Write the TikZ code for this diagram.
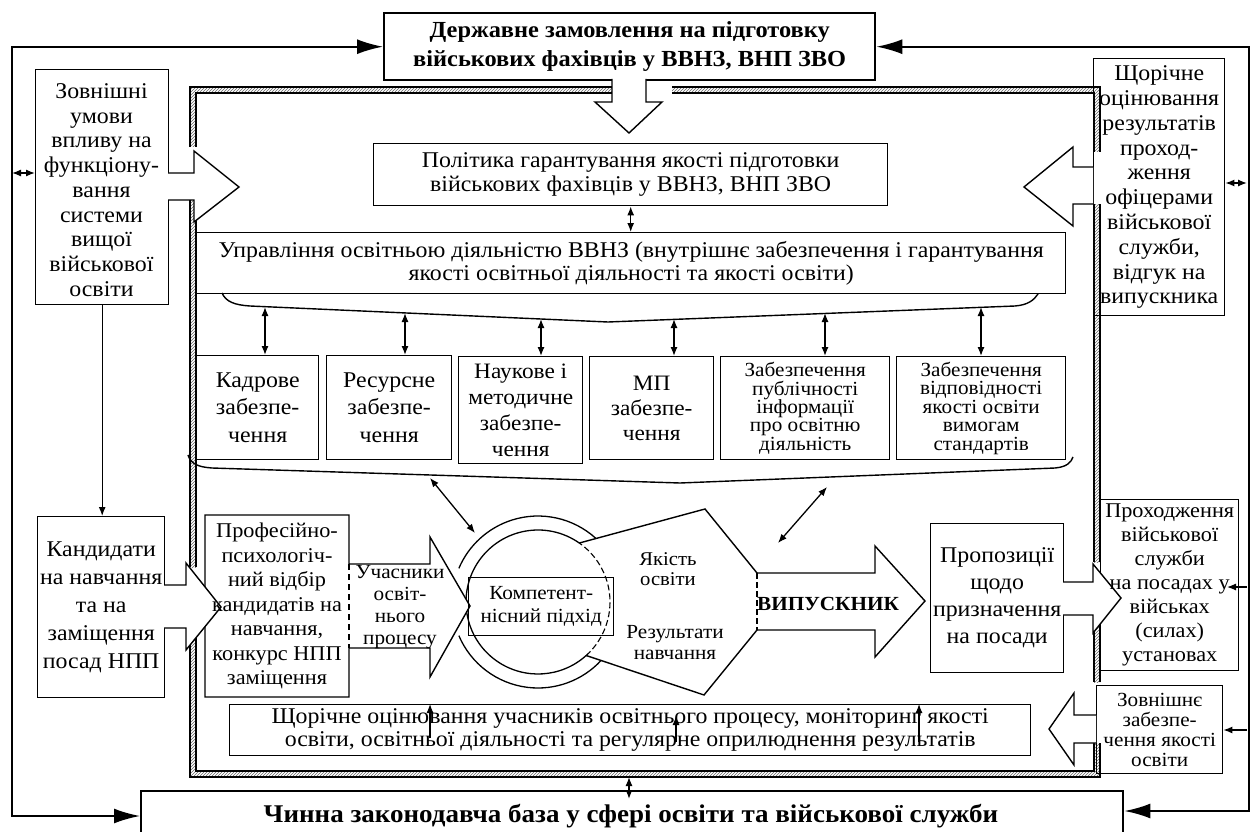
\documentclass[tikz,border=0pt]{standalone}
\usepackage{fontspec}
\setmainfont{Liberation Serif}[FakeStretch=1.06]
\usetikzlibrary{arrows.meta,patterns}
\newcommand\myfs[2]{\fontsize{#1}{#2}\selectfont}
\begin{document}
\begin{tikzpicture}[x=1pt,y=-1pt,
  bx/.style={draw, line width=1.4pt, inner sep=0pt, anchor=north west},
  tbx/.style={bx, line width=2.4pt},
  txt/.style={inner sep=0pt, align=center},
  blk/.style={draw, line width=1.4pt, line join=miter, fill=white},
  hatch/.style={pattern=north east lines, pattern color=black!60},
  rl/.style={line width=1.1pt},
  bigdbl/.style={line width=2pt, {Latex[length=26pt,width=15pt]}-{Latex[length=26pt,width=15pt]}},
  dbl/.style={line width=1.3pt, {Latex[length=9pt,width=7pt]}-{Latex[length=9pt,width=7pt]}},
  sarr/.style={line width=1.2pt, -{Latex[length=9pt,width=7pt]}},
  brk/.style={line width=1.4pt},
]
\useasboundingbox (0,0) rectangle (1251,832);
\fill[white] (0,0) rectangle (1251,832);

% hatched frame
\fill[hatch] (612,87) -- (190,87) -- (190,147) -- (196,147) -- (196,93) -- (612,93) -- cycle;
\draw[rl] (612,87) -- (190,87) -- (190,147);
\draw[rl] (612,93) -- (196,93) -- (196,147);
\fill[hatch] (190,200) rectangle (196,567);
\draw[rl] (190,200) -- (190,567) (196,200) -- (196,567);
\fill[hatch] (190,622) -- (190,777) -- (1100,777) -- (1100,743) -- (1094,743) -- (1094,771) -- (196,771) -- (196,622) -- cycle;
\draw[rl] (190,622) -- (190,777) -- (1100,777) -- (1100,743);
\draw[rl] (196,622) -- (196,771) -- (1094,771) -- (1094,743);
\fill[hatch] (1094,615) rectangle (1100,682);
\draw[rl] (1094,615) -- (1094,682) (1100,615) -- (1100,682);
\fill[hatch] (1094,204) rectangle (1100,562);
\draw[rl] (1094,204) -- (1094,562) (1100,204) -- (1100,562);
\fill[hatch] (672,87) -- (1100,87) -- (1100,152) -- (1094,152) -- (1094,93) -- (672,93) -- cycle;
\draw[rl] (672,87) -- (1100,87) -- (1100,152);
\draw[rl] (672,93) -- (1094,93) -- (1094,152);

% circles
\coordinate (cc) at (538,602);
\draw[line width=1.3pt] (cc) ++(-47.6:86) arc[start angle=-47.6, end angle=-157, radius=86];
\draw[line width=1.3pt] (cc) ++(-203:86) arc[start angle=-203, end angle=-317.1, radius=86];
\draw[line width=1.3pt] (cc) ++(-55:72) arc[start angle=-55, end angle=-312, radius=72];
\draw[line width=1.1pt, dash pattern=on 6pt off 3pt] (cc) ++(48:72) arc[start angle=48, end angle=-55, radius=72];

% professional selection + participants arrow
\draw[blk] (205,515) -- (349,515) -- (349,564) -- (430,564) -- (430,537) -- (470,606) -- (430,677) -- (430,648) -- (349,648) -- (349,697) -- (205,697) -- cycle;
\draw[line width=1.1pt, dash pattern=on 6pt off 4pt] (349,564) -- (349,648);

% boxes
\node[tbx, minimum width=491pt, minimum height=67pt] (gov) at (383,12) {};
\node[tbx, minimum width=982pt, minimum height=50pt] (law) at (140,790) {};
\node[bx, minimum width=514pt, minimum height=62pt] (pol) at (373,143) {};
\node[bx, minimum width=869pt, minimum height=61pt] (upr) at (196,232) {};
\node[bx, minimum width=133pt, minimum height=235pt] (zovn) at (35,69) {};
\node[bx, minimum width=131pt, minimum height=257pt] (shch) at (1093,58) {};
\node[bx, minimum width=122pt, minimum height=104pt] (kadr) at (196,355) {};
\node[bx, minimum width=125pt, minimum height=104pt] (res) at (326,355) {};
\node[bx, minimum width=124pt, minimum height=107pt] (nauk) at (458,356) {};
\node[bx, minimum width=124pt, minimum height=103pt] (mp) at (589,356) {};
\node[bx, minimum width=169pt, minimum height=103pt] (pub) at (720,356) {};
\node[bx, minimum width=169pt, minimum height=103pt] (vid) at (896,356) {};
\node[bx, minimum width=127pt, minimum height=181pt] (kand) at (37,516) {};
\node[bx, minimum width=133pt, minimum height=149pt] (prop) at (930,523) {};
\node[bx, minimum width=138pt, minimum height=171pt] (prokh) at (1100,499) {};
\node[bx, minimum width=126pt, minimum height=88pt] (zz) at (1096,685) {};
\node[bx, minimum width=801pt, minimum height=51pt] (mon) at (229,704) {};
\node[bx, minimum width=145pt, minimum height=58pt] (komp) at (468,577) {};

% block arrows
\draw[blk] (612,79) -- (612,102) -- (595,102) -- (629,133) -- (662,102) -- (646,102) -- (646,79);
\draw[blk] (168,173) -- (194,173) -- (194,151) -- (239,187) -- (194,222) -- (194,200) -- (168,200);
\draw[blk] (1093,167) -- (1073,167) -- (1073,147) -- (1024,187) -- (1073,226) -- (1073,204) -- (1093,204);
\draw[blk] (164,585) -- (186,585) -- (186,563) -- (221,607) -- (186,650) -- (186,628) -- (164,628);
\draw[blk] (1063,582) -- (1093,582) -- (1093,564) -- (1121,598) -- (1093,633) -- (1093,615) -- (1063,615);
\draw[blk] (1096,715) -- (1074,715) -- (1074,693) -- (1049,729) -- (1074,765) -- (1074,743) -- (1096,743);

% quality pentagon + graduate arrow
\draw[line width=1.4pt, line join=miter] (cc) ++(-55:72) -- (705,509) -- (757,573) -- (875,573) -- (875,546) -- (925,601) -- (875,657) -- (875,630) -- (757,630) -- (704,695) -- (586.2,655.5);
\draw[line width=1.1pt, dash pattern=on 6pt off 3pt] (757,573) -- (757,630);

% outer connectors
\draw[bigdbl] (law.west |- 0,816) -- ++(-128,0) |- (gov.west);
\draw[bigdbl] (law.east |- 0,811) -- ++(125,0) |- (gov.east);
\coordinate (dl) at (12,173);
\draw[dbl] (dl) -- (dl -| zovn.west);
\coordinate (dr) at (1247,183);
\draw[dbl] (dr -| shch.east) -- (dr);
\coordinate (pr) at (1247,587);
\coordinate (prt) at (1227,587);
\draw[sarr] (pr) -- (prt);
\coordinate (zr) at (1247,730);
\draw[sarr] (zr) -- (zr -| zz.east);
\draw[sarr] (zovn.south) -- (zovn.south |- kand.north);
\draw[dbl] (pol.south) -- (pol.south |- upr.north);
\coordinate (fb) at (629,777);
\coordinate (fb2) at (629,799);
\draw[dbl] (fb) -- (fb2);

% brackets
\draw[brk] (222,293) .. controls (226,302) and (235,305) .. (250,306) -- (608,322) -- (1015,306) .. controls (1028,305) and (1034,300) .. (1038,294);
\draw[brk] (188,455) .. controls (191,464) and (198,467) .. (212,468) -- (680,483) -- (1055,468) .. controls (1066,467) and (1071,463) .. (1073,457);
\foreach \x/\y/\b in {265/307/kadr, 405/313/res, 541/319/nauk, 674/319/mp, 825/313/pub, 981/307/vid} {
  \coordinate (t\b) at (\x,\y);
  \draw[dbl] (t\b) -- (t\b |- \b.north);
}
\coordinate (d1a) at (430,478); \coordinate (d1b) at (475,533);
\draw[dbl] (d1a) -- (d1b);
\coordinate (d2a) at (827,487); \coordinate (d2b) at (778,543);
\draw[dbl] (d2a) -- (d2b);

% arrows up into monitoring box
\coordinate (u1) at (430,738); \draw[sarr] (u1) -- (u1 |- mon.north);
\coordinate (u2) at (676,742); \coordinate (u2t) at (676,716); \draw[sarr] (u2) -- (u2t);
\coordinate (u3) at (919,742); \draw[sarr] (u3) -- (u3 |- mon.north);

% texts
\node[txt, font=\bfseries\myfs{23}{28.5}] (gov-t) at (gov) {Державне замовлення на підготовку\\військових фахівців у ВВНЗ, ВНП ЗВО};
\node[txt, font=\bfseries\myfs{25.5}{28}] (law-t) at (631,816) {Чинна законодавча база у сфері освіти та військової служби};
\node[txt, font=\myfs{22.5}{24}] (pol-t) at (pol) {Політика гарантування якості підготовки\\військових фахівців у ВВНЗ, ВНП ЗВО};
\node[txt, font=\myfs{22.5}{23.5}] (upr-t) at (upr) {Управління освітньою діяльністю ВВНЗ (внутрішнє забезпечення і гарантування\\якості освітньої діяльності та якості освіти)};
\node[txt, font=\myfs{22.5}{24.7}] (zovn-t) at (101.5,190) {Зовнішні\\умови\\впливу на\\функціону-\\вання\\системи\\вищої\\військової\\освіти};
\node[txt, font=\myfs{22.5}{24.8}] (shch-t) at (shch) {Щорічне\\оцінювання\\результатів\\проход-\\ження\\офіцерами\\військової\\служби,\\відгук на\\випускника};
\node[txt, font=\myfs{22.5}{27.5}] (kadr-t) at (kadr) {Кадрове\\забезпе-\\чення};
\node[txt, font=\myfs{22.5}{27.5}] (res-t) at (res) {Ресурсне\\забезпе-\\чення};
\node[txt, font=\myfs{22}{26}] (nauk-t) at (nauk) {Наукове і\\методичне\\забезпе-\\чення};
\node[txt, font=\myfs{22}{25}] (mp-t) at (mp) {МП\\забезпе-\\чення};
\node[txt, font=\myfs{20}{18.4}] (pub-t) at (pub) {Забезпечення\\публічності\\інформації\\про освітню\\діяльність};
\node[txt, font=\myfs{20}{18.4}] (vid-t) at (vid) {Забезпечення\\відповідності\\якості освіти\\вимогам\\стандартів};
\node[txt, font=\myfs{22.5}{28}] (kand-t) at (kand) {Кандидати\\на навчання\\та на\\заміщення\\посад НПП};
\node[txt, font=\myfs{21}{24.5}] (prof-t) at (277,606) {Професійно-\\психологіч-\\ний відбір\\кандидатів на\\навчання,\\конкурс НПП\\заміщення};
\node[txt, font=\myfs{20}{22}] (uch-t) at (400,607) {Учасники\\освіт-\\нього\\процесу};
\node[txt, font=\myfs{20}{23}] (komp-t) at (komp) {Компетент-\\нісний підхід};
\node[txt, font=\myfs{19.5}{19.5}] (yak-t) at (668,569) {Якість\\освіти};
\node[txt, font=\myfs{20}{21}] (rez-t) at (675,643) {Результати\\навчання};
\node[txt, font=\bfseries\myfs{20}{24}] (vyp-t) at (828,604) {ВИПУСКНИК};
\node[txt, font=\myfs{22.5}{27}] (prop-t) at (prop) {Пропозиції\\щодо\\призначення\\на посади};
\node[txt, font=\myfs{21}{24}] (prokh-t) at (prokh) {Проходження\\військової\\служби\\на посадах у\\військах\\(силах)\\установах};
\node[txt, font=\myfs{20}{20}] (zz-t) at (zz) {Зовнішнє\\забезпе-\\чення якості\\освіти};
\node[txt, font=\myfs{22.5}{22.5}] (mon-t) at (mon) {Щорічне оцінювання учасників освітнього процесу, моніторинг якості\\освіти, освітньої діяльності та регулярне оприлюднення результатів};
\end{tikzpicture}
\end{document}
